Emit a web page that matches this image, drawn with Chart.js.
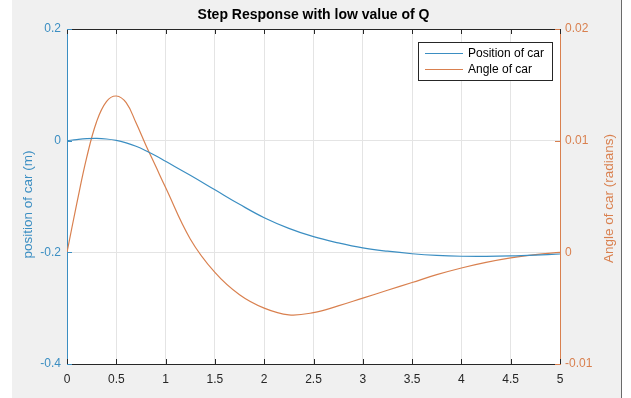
<!DOCTYPE html>
<html>
<head>
<meta charset="utf-8">
<script src="https://cdn.jsdelivr.net/npm/chart.js@4/dist/chart.umd.min.js"></script>
<style>
  html, body { margin: 0; padding: 0; background: #fff; }
  #wrap { width: 631px; height: 398px; position: relative; }
</style>
</head>
<body>
<div id="wrap"><canvas id="chart"></canvas></div>
<script>
// time samples (s)
const times = [0, 0.1, 0.2, 0.3, 0.4, 0.5, 0.6, 0.7, 0.8, 0.9, 1.0,
               1.25, 1.5, 1.75, 2.0, 2.25, 2.5, 2.75, 3.0, 3.25, 3.5, 3.75, 4.0, 4.25, 4.5, 4.75, 5.0];
// position of car (m), left axis
const position = [0, 0.002, 0.0035, 0.004, 0.003, 0.0005, -0.004, -0.010, -0.018, -0.027, -0.037,
                  -0.062, -0.088, -0.114, -0.138, -0.157, -0.172, -0.183, -0.192, -0.198, -0.2025,
                  -0.2055, -0.207, -0.2072, -0.2065, -0.205, -0.203];
// angle of car (radians), right axis
const angle = [0, 0.0044, 0.0085, 0.0117, 0.0135, 0.0140, 0.0134, 0.0116, 0.0096, 0.0077, 0.0058,
               0.0012, -0.0018, -0.0038, -0.0050, -0.0056, -0.0054, -0.0048, -0.0041, -0.0034, -0.0027,
               -0.0020, -0.0014, -0.0009, -0.0005, -0.0002, 0];

const xTicks = [0, 0.5, 1, 1.5, 2, 2.5, 3, 3.5, 4, 4.5, 5];
const yLeftTicks = [-0.4, -0.2, 0, 0.2];
const yRightTicks = [-0.01, 0, 0.01, 0.02];

const BLUE = '#3b8ec2';
const ORANGE = '#d9804f';
const DARK = '#262626';
const FONT = '"Liberation Sans", Arial, Helvetica, sans-serif';

const pts = (ys) => times.map((t, i) => ({ x: t, y: ys[i] }));
const plain = v => String(v);

// matlab-ish frame: grey figure, white axes, inward ticks, legend inside, titles
const matlabFrame = {
  id: 'matlabFrame',
  beforeDraw(chart) {
    const { ctx, chartArea: a } = chart;
    ctx.save();
    ctx.fillStyle = '#fff';
    ctx.fillRect(0, 0, chart.width, chart.height);
    ctx.fillStyle = '#f0f0f0';
    ctx.fillRect(12, 0, 609, chart.height);
    ctx.strokeStyle = '#6a6a6a';
    ctx.lineWidth = 1;
    ctx.beginPath(); ctx.moveTo(621.5, 0); ctx.lineTo(621.5, chart.height); ctx.stroke();
    ctx.fillStyle = '#fff';
    ctx.fillRect(a.left, a.top, a.right - a.left, a.bottom - a.top);
    ctx.restore();
  },
  afterDraw(chart) {
    const { ctx, chartArea: a, scales } = chart;
    ctx.save();
    ctx.lineWidth = 1;
    // top border
    ctx.strokeStyle = DARK;
    ctx.beginPath(); ctx.moveTo(a.left, a.top + 0.5); ctx.lineTo(a.right, a.top + 0.5); ctx.stroke();
    // x ticks, inward at bottom and top
    xTicks.forEach(v => {
      const px = Math.round(scales.x.getPixelForValue(v)) + 0.5;
      ctx.beginPath();
      ctx.moveTo(px, a.bottom); ctx.lineTo(px, a.bottom - 5);
      ctx.moveTo(px, a.top); ctx.lineTo(px, a.top + 5);
      ctx.stroke();
    });
    ctx.strokeStyle = BLUE;
    yLeftTicks.forEach(v => {
      const py = Math.round(scales.y.getPixelForValue(v)) + 0.5;
      ctx.beginPath(); ctx.moveTo(a.left, py); ctx.lineTo(a.left + 5, py); ctx.stroke();
    });
    ctx.strokeStyle = ORANGE;
    yRightTicks.forEach(v => {
      const py = Math.round(scales.y2.getPixelForValue(v)) + 0.5;
      ctx.beginPath(); ctx.moveTo(a.right, py); ctx.lineTo(a.right - 5, py); ctx.stroke();
    });

    // title
    ctx.fillStyle = '#000';
    ctx.font = 'bold 14px ' + FONT;
    ctx.textAlign = 'center';
    ctx.textBaseline = 'middle';
    ctx.fillText('Step Response with low value of Q', (a.left + a.right) / 2, 15);

    // axis titles
    const midY = (a.top + a.bottom) / 2;
    ctx.font = '13.5px ' + FONT;
    ctx.save();
    ctx.translate(28, midY + 8);
    ctx.rotate(-Math.PI / 2);
    ctx.fillStyle = BLUE;
    ctx.fillText('position of car (m)', 0, 0);
    ctx.restore();
    ctx.save();
    ctx.translate(609, midY + 2);
    ctx.rotate(-Math.PI / 2);
    ctx.fillStyle = ORANGE;
    ctx.fillText('Angle of car (radians)', 0, 0);
    ctx.restore();

    // legend box
    const lx = 418, ly = 42, lw = 134, lh = 38;
    ctx.fillStyle = '#fff';
    ctx.fillRect(lx, ly, lw, lh);
    ctx.strokeStyle = DARK;
    ctx.strokeRect(lx + 0.5, ly + 0.5, lw, lh);
    ctx.font = '12px ' + FONT;
    ctx.textAlign = 'left';
    chart.data.datasets.forEach((ds, i) => {
      const yy = ly + 11 + i * 16;
      ctx.strokeStyle = ds.borderColor;
      ctx.beginPath(); ctx.moveTo(lx + 7, yy + 0.5); ctx.lineTo(lx + 45, yy + 0.5); ctx.stroke();
      ctx.fillStyle = '#000';
      ctx.fillText(ds.label, lx + 50, yy + 1);
    });
    ctx.restore();
  }
};

new Chart(document.getElementById('chart'), {
  type: 'line',
  data: {
    datasets: [
      { label: 'Position of car', data: pts(position), yAxisID: 'y', borderColor: BLUE,
        borderWidth: 1.2, pointRadius: 0, tension: 0.4 },
      { label: 'Angle of car', data: pts(angle), yAxisID: 'y2', borderColor: ORANGE,
        borderWidth: 1.2, pointRadius: 0, tension: 0.4 }
    ]
  },
  options: {
    responsive: true,
    maintainAspectRatio: false,
    animation: false,
    layout: { padding: { top: 29, left: 0, right: 0, bottom: 0 } },
    plugins: { legend: { display: false }, title: { display: false }, tooltip: { enabled: false } },
    scales: {
      x: {
        type: 'linear', min: 0, max: 5,
        afterBuildTicks: s => { s.ticks = xTicks.map(v => ({ value: v })); },
        afterFit: s => { s.height = 34; },
        ticks: { color: DARK, font: { family: FONT, size: 12 }, padding: 8, maxRotation: 0, callback: plain },
        grid: { color: '#e4e4e4', drawTicks: false },
        border: { color: DARK }
      },
      y: {
        position: 'left', min: -0.4, max: 0.2,
        afterBuildTicks: s => { s.ticks = yLeftTicks.map(v => ({ value: v })); },
        afterFit: s => { s.width = 67; },
        ticks: { color: BLUE, font: { family: FONT, size: 12 }, padding: 6, callback: plain },
        grid: { color: '#e4e4e4', drawTicks: false },
        border: { color: BLUE }
      },
      y2: {
        position: 'right', min: -0.01, max: 0.02,
        afterBuildTicks: s => { s.ticks = yRightTicks.map(v => ({ value: v })); },
        afterFit: s => { s.width = 71; },
        ticks: { color: ORANGE, font: { family: FONT, size: 12 }, padding: 5, callback: plain },
        grid: { display: false, drawTicks: false },
        border: { color: ORANGE }
      }
    }
  },
  plugins: [matlabFrame]
});
</script>
</body>
</html>
